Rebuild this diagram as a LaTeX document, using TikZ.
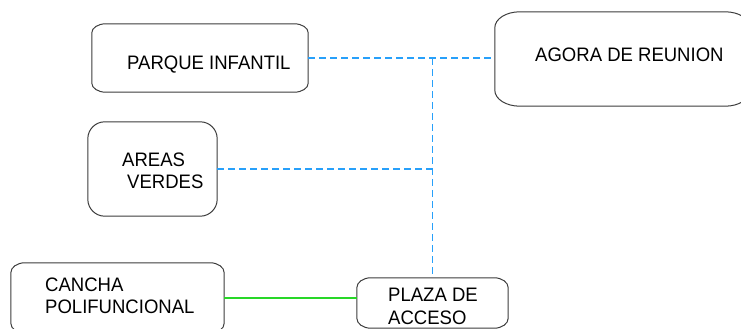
\documentclass[tikz,border=0pt]{standalone}
\usepackage{fontspec}
\setmainfont{Liberation Sans}[FakeStretch=0.95]
\usetikzlibrary{calc}
\definecolor{linkblue}{RGB}{40,160,250}
\definecolor{linkgreen}{RGB}{40,215,40}
\definecolor{boxgray}{RGB}{60,60,60}
\tikzset{
  area/.style={draw=none,inner sep=0pt,minimum width=#1},
  lbl/.style={anchor=base west,inner sep=0pt,font=\fontsize{19.5}{22}\selectfont},
  boxline/.style={draw=boxgray,line width=1pt},
  bluelink/.style={draw=linkblue,line width=1.7pt,dash pattern=on 7pt off 4pt},
  greenlink/.style={draw=linkgreen,line width=1.3pt}
}
\newcommand\curvebox[3]{%
  \draw[boxline] ($(#1.north west)+(0,-#3)$)
    arc[start angle=180,end angle=90,x radius=#2,y radius=#3]
    -- ($(#1.north east)+(-#2,0)$)
    arc[start angle=90,end angle=0,x radius=#2,y radius=#3]
    -- ($(#1.south east)+(0,#3)$)
    arc[start angle=0,end angle=-90,x radius=#2,y radius=#3]
    -- ($(#1.south west)+(#2,0)$)
    arc[start angle=270,end angle=180,x radius=#2,y radius=#3]
    -- cycle;}
\begin{document}
\begin{tikzpicture}[x=1pt,y=1pt]
\useasboundingbox (0,0) rectangle (741,329);
% box areas
\node[area=216pt,minimum height=68pt] (parque) at (200,271) {};
\node[area=255pt,minimum height=94pt] (agora) at (622.5,270) {};
\node[area=129pt,minimum height=94pt] (areas) at (152.5,160) {};
\node[area=213pt,minimum height=70pt] (cancha) at (117.5,31) {};
\node[area=151pt,minimum height=50pt] (plaza) at (432.5,26) {};
% outlines
\curvebox{parque}{14pt}{9pt}
\curvebox{agora}{25pt}{16pt}
\curvebox{areas}{17pt}{17pt}
\curvebox{cancha}{14pt}{10pt}
\curvebox{plaza}{14pt}{10pt}
% texts
\node[lbl] (tparque) at (127,259) {PARQUE INFANTIL};
\node[lbl] (tagora) at (535,267) {AGORA DE REUNION};
\node[lbl] (tareas1) at (122,162) {AREAS};
\node[lbl] (tareas2) at (127,140) {VERDES};
\node[lbl] (tcancha1) at (45,37) {CANCHA};
\node[lbl] (tcancha2) at (45,16) {POLIFUNCIONAL};
\node[lbl] (tplaza1) at (388,27) {PLAZA DE};
\node[lbl] (tplaza2) at (388,5) {ACCESO};
% connectors
\coordinate (j1) at (plaza.north |- parque.east);
\coordinate (j2) at (plaza.north |- areas.east);
\draw[bluelink] (parque.east) -- (agora.west |- parque.east);
\draw[bluelink] (j1) -- (plaza.north);
\draw[bluelink] (areas.east) -- (j2);
\draw[greenlink] (cancha.east) -- (plaza.west |- cancha.east);
\end{tikzpicture}
\end{document}
